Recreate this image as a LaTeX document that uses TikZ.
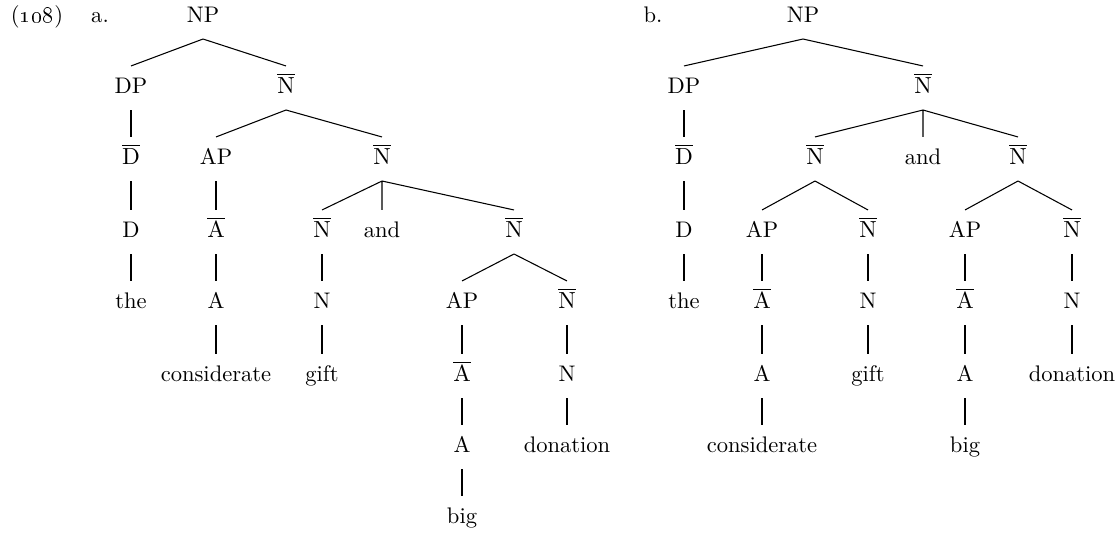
\documentclass[tikz,border=0pt]{standalone}
\usepackage{tikz}
\usepackage{amsmath}

\begin{document}
\begin{tikzpicture}[x=0.47pt,y=-0.47pt,line width=0.5pt,
		every node/.style={font=\fontsize{10.6}{12.7}\selectfont,text height=7pt,text depth=2pt,inner xsep=1pt,inner ysep=5.6pt}]
		\useasboundingbox (0,0) rectangle (1118,533);
		
		% Beschriftung
		\node (nr) at (37,17) {(\oldstylenums{108})};
		\node (la) at (100,17) {a.};
		\node (lb) at (653,17) {b.};
		
		% Baum a
		\node (aNP) at (203,17) {NP};
		\node (aDP) at (131,88) {DP};
		\node (aN1) at (286,88) {$\overline{\mathrm{N}}$};
		\node (aD1) at (131,159) {$\overline{\mathrm{D}}$};
		\node (aAP) at (216,159) {AP};
		\node (aN2) at (382,159) {$\overline{\mathrm{N}}$};
		\node (aD) at (131,232) {D};
		\node (aA1) at (216,232) {$\overline{\mathrm{A}}$};
		\node (aN3) at (322,232) {$\overline{\mathrm{N}}$};
		\node (aand) at (382,232) {and};
		\node (aN4) at (514,232) {$\overline{\mathrm{N}}$};
		\node (athe) at (131,303) {the};
		\node (aA) at (216,303) {A};
		\node (aN) at (322,303) {N};
		\node (aAP2) at (462,303) {AP};
		\node (aN5) at (567,303) {$\overline{\mathrm{N}}$};
		\node (acons) at (216,376) {considerate};
		\node (agift) at (322,376) {gift};
		\node (aA2) at (462,376) {$\overline{\mathrm{A}}$};
		\node (aN6) at (567,376) {N};
		\node (aA3) at (462,447) {A};
		\node (adon) at (567,447) {donation};
		\node (abig) at (462,518) {big};
		
		\draw (aNP.south) -- (aDP.north) (aNP.south) -- (aN1.north);
		\draw (aDP) -- (aD1) -- (aD) -- (athe);
		\draw (aN1.south) -- (aAP.north) (aN1.south) -- (aN2.north);
		\draw (aAP) -- (aA1) -- (aA) -- (acons);
		\draw (aN2.south) -- (aN3.north) (aN2.south) -- (aand.north) (aN2.south) -- (aN4.north);
		\draw (aN3) -- (aN) -- (agift);
		\draw (aN4.south) -- (aAP2.north) (aN4.south) -- (aN5.north);
		\draw (aAP2) -- (aA2) -- (aA3) -- (abig);
		\draw (aN5) -- (aN6) -- (adon);
		
		% Baum b
		\node (bNP) at (803,17) {NP};
		\node (bDP) at (684,88) {DP};
		\node (bN1) at (923,88) {$\overline{\mathrm{N}}$};
		\node (bD1) at (684,159) {$\overline{\mathrm{D}}$};
		\node (bN2) at (815,159) {$\overline{\mathrm{N}}$};
		\node (band) at (923,159) {and};
		\node (bN3) at (1018,159) {$\overline{\mathrm{N}}$};
		\node (bD) at (684,232) {D};
		\node (bAP) at (762,232) {AP};
		\node (bN4) at (868,232) {$\overline{\mathrm{N}}$};
		\node (bAP2) at (965,232) {AP};
		\node (bN5) at (1072,232) {$\overline{\mathrm{N}}$};
		\node (bthe) at (684,303) {the};
		\node (bA1) at (762,303) {$\overline{\mathrm{A}}$};
		\node (bN) at (868,303) {N};
		\node (bA2) at (965,303) {$\overline{\mathrm{A}}$};
		\node (bN6) at (1072,303) {N};
		\node (bA) at (762,376) {A};
		\node (bgift) at (868,376) {gift};
		\node (bA3) at (965,376) {A};
		\node (bdon) at (1072,376) {donation};
		\node (bcons) at (762,447) {considerate};
		\node (bbig) at (965,447) {big};
		
		\draw (bNP.south) -- (bDP.north) (bNP.south) -- (bN1.north);
		\draw (bDP) -- (bD1) -- (bD) -- (bthe);
		\draw (bN1.south) -- (bN2.north) (bN1.south) -- (band.north) (bN1.south) -- (bN3.north);
		\draw (bN2.south) -- (bAP.north) (bN2.south) -- (bN4.north);
		\draw (bAP) -- (bA1) -- (bA) -- (bcons);
		\draw (bN4) -- (bN) -- (bgift);
		\draw (bN3.south) -- (bAP2.north) (bN3.south) -- (bN5.north);
		\draw (bAP2) -- (bA2) -- (bA3) -- (bbig);
		\draw (bN5) -- (bN6) -- (bdon);
	\end{tikzpicture}
\end{document}
